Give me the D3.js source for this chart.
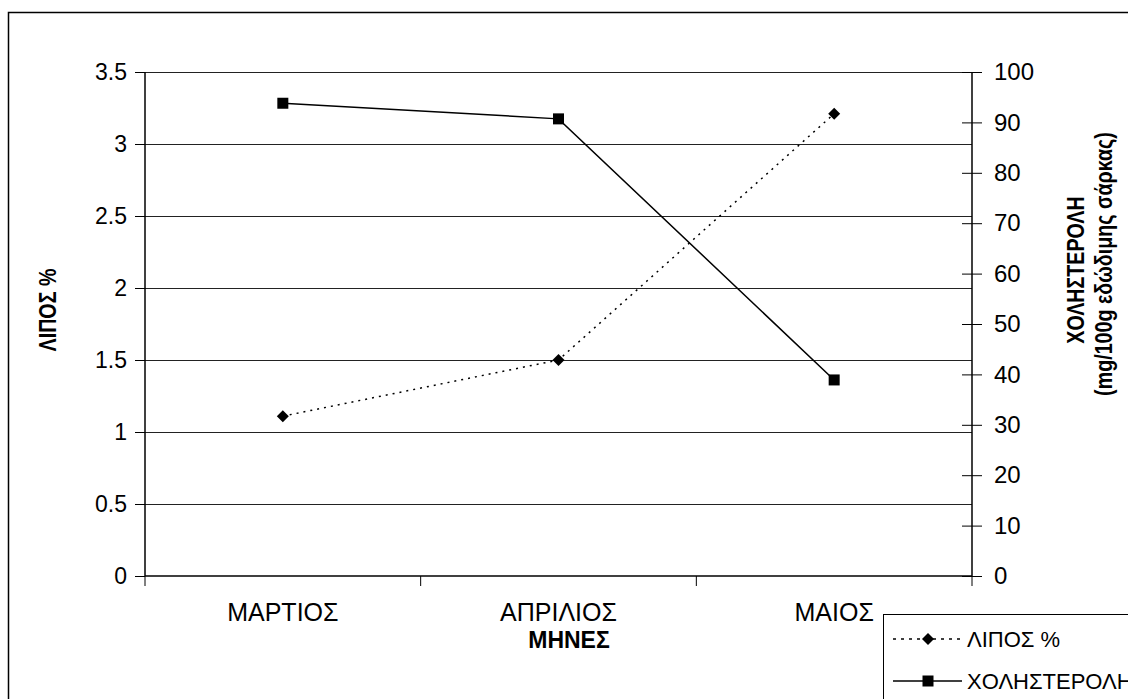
<!DOCTYPE html>
<html><head><meta charset="utf-8">
<script src="https://cdn.jsdelivr.net/npm/d3@7/dist/d3.min.js"></script>
<style>body{margin:0;background:#fff}svg{display:block}text{font-family:"Liberation Sans",Arial,sans-serif}</style>
</head><body>
<svg id="c" width="1128" height="699"></svg>
<script>
const months = ["ΜΑΡΤΙΟΣ", "ΑΠΡΙΛΙΟΣ", "ΜΑΙΟΣ"];
const fat = [1.11, 1.5, 3.21];
const chol = [93.8, 90.7, 38.9];
const leftTicks = [0, 0.5, 1, 1.5, 2, 2.5, 3, 3.5];
const rightTicks = [0, 10, 20, 30, 40, 50, 60, 70, 80, 90, 100];
const seriesNames = ["ΛΙΠΟΣ %", "ΧΟΛΗΣΤΕΡΟΛΗ"];

const svg = d3.select("#c");
const L = 145, R = 972, T = 72, B = 576;
const FS = 23;
const x = d3.scaleBand().domain(months).range([L, R]);
const yL = d3.scaleLinear().domain([0, 3.5]).range([B, T]);
const yR = d3.scaleLinear().domain([0, 100]).range([B, T]);
const cx = d => x(d) + x.bandwidth() / 2;

// outer frame
svg.append("rect").attr("x", 8.5).attr("y", 12.5).attr("width", 1200).attr("height", 800)
  .attr("fill", "none").attr("stroke", "#000").attr("stroke-width", 1.5);

// gridlines
svg.append("g").selectAll("line").data(leftTicks.filter(d => d > 0)).join("line")
  .attr("x1", L).attr("x2", R).attr("y1", d => Math.round(yL(d)) + 0.5).attr("y2", d => Math.round(yL(d)) + 0.5)
  .attr("stroke", "#222").attr("stroke-width", 1);

// left axis
const gl = svg.append("g").attr("transform", `translate(${L},0)`)
  .call(d3.axisLeft(yL).tickValues(leftTicks).tickSize(10).tickPadding(8).tickFormat(d3.format("")));
// right axis
const gr = svg.append("g").attr("transform", `translate(${R},0)`)
  .call(d3.axisRight(yR).tickValues(rightTicks).tickSize(10).tickPadding(12));
gr.selectAll(".tick line").attr("x1", -10);
// bottom axis
const gb = svg.append("g").attr("transform", `translate(0,${B})`)
  .call(d3.axisBottom(x).tickSize(0).tickPadding(27));
const bounds = months.map(m => x(m)).concat([R]);
gb.selectAll(".bt").data(bounds).join("line").attr("class", "bt")
  .attr("x1", d => d).attr("x2", d => d).attr("y1", 0).attr("y2", 10).attr("stroke", "#000");

[gl, gr, gb].forEach(g => {
  g.select(".domain").attr("stroke", "#000").attr("stroke-width", 1.5);
  g.selectAll(".tick line").attr("stroke", "#000");
  g.selectAll("text").attr("font-size", FS).attr("fill", "#000")
    .attr("font-family", '"Liberation Sans",Arial,sans-serif');
});
gb.selectAll(".tick text").attr("font-size", 25);
gr.selectAll(".tick text").attr("font-size", 24);
gb.select(".domain").attr("d", `M${L},0H${R}`);
gl.select(".domain").attr("d", `M0,${B}V${T}`);
gr.select(".domain").attr("d", `M0,${B}V${T}`);

// fat line (dotted)
const lineF = d3.line().x((d, i) => cx(months[i])).y(d => yL(d));
svg.append("path").datum(fat).attr("d", lineF).attr("fill", "none")
  .attr("stroke", "#000").attr("stroke-width", 1.5).attr("stroke-dasharray", "2,5");
// chol line
const lineC = d3.line().x((d, i) => cx(months[i])).y(d => yR(d));
svg.append("path").datum(chol).attr("d", lineC).attr("fill", "none")
  .attr("stroke", "#000").attr("stroke-width", 1.5);

const diamond = d3.symbol().type(d3.symbolSquare).size(72);
svg.append("g").selectAll("path").data(fat).join("path")
  .attr("d", diamond)
  .attr("transform", (d, i) => `translate(${cx(months[i])},${yL(d)}) rotate(45)`)
  .attr("fill", "#000");
svg.append("g").selectAll("rect").data(chol).join("rect")
  .attr("x", (d, i) => cx(months[i]) - 5.5).attr("y", d => yR(d) - 5.5)
  .attr("width", 11).attr("height", 11).attr("fill", "#000");

// axis titles (rotated text compressed along reading direction as in reference)
const rot = (tx, ty) => `translate(${tx},${ty}) rotate(-90) scale(0.82,1)`;
svg.append("text").attr("transform", rot(56, 310))
  .attr("text-anchor", "middle").attr("font-weight", "bold").attr("font-size", 24).text("ΛΙΠΟΣ %");
svg.append("text").attr("transform", rot(1084, 270))
  .attr("text-anchor", "middle").attr("font-weight", "bold").attr("font-size", 24).text("ΧΟΛΗΣΤΕΡΟΛΗ");
svg.append("text").attr("transform", rot(1112, 264))
  .attr("text-anchor", "middle").attr("font-weight", "bold").attr("font-size", 24).text("(mg/100g εδώδιμης σάρκας)");
svg.append("text").attr("x", 569).attr("y", 648)
  .attr("text-anchor", "middle").attr("font-weight", "bold").attr("font-size", 23).text("ΜΗΝΕΣ");

// legend
const lg = svg.append("g");
lg.append("rect").attr("x", 883.5).attr("y", 614.5).attr("width", 400).attr("height", 200)
  .attr("fill", "#fff").attr("stroke", "#000").attr("stroke-width", 1);
const ly = [639, 681];
lg.append("line").attr("x1", 893).attr("x2", 962).attr("y1", ly[0]).attr("y2", ly[0])
  .attr("stroke", "#000").attr("stroke-width", 1.5).attr("stroke-dasharray", "3,5");
lg.append("path").attr("d", diamond).attr("transform", `translate(928,${ly[0]}) rotate(45)`).attr("fill", "#000");
lg.append("line").attr("x1", 893).attr("x2", 962).attr("y1", ly[1]).attr("y2", ly[1])
  .attr("stroke", "#000").attr("stroke-width", 1.5);
lg.append("rect").attr("x", 922.5).attr("y", ly[1] - 5.5).attr("width", 11).attr("height", 11).attr("fill", "#000");
lg.selectAll("text.lt").data(seriesNames).join("text").attr("class", "lt")
  .attr("x", 967).attr("y", (d, i) => ly[i] + 8).attr("font-size", 22).text(d => d);
</script>
</body></html>
